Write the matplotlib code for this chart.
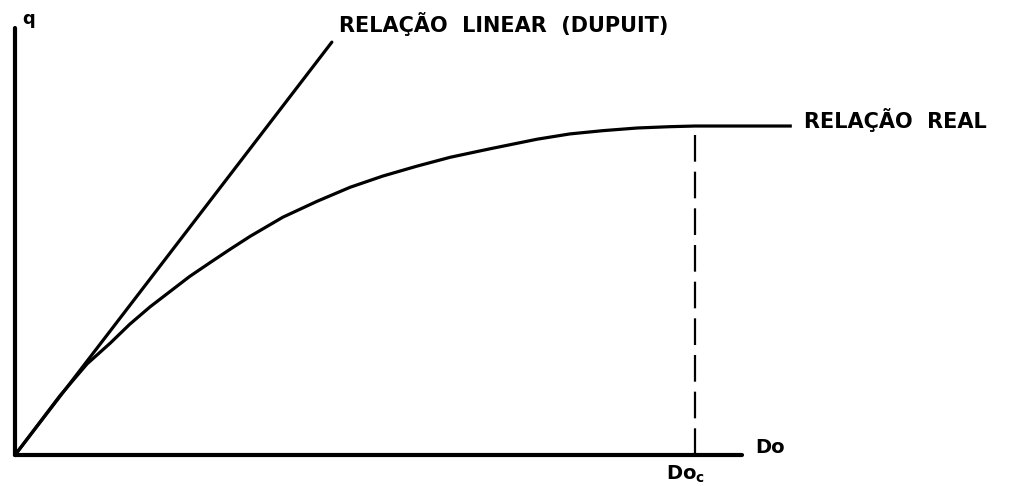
import numpy as np
import matplotlib.pyplot as plt

# curve, x in units of Do_c, y in units of q max
real_x = [0.0, 0.066, 0.106, 0.140, 0.169, 0.199, 0.228, 0.257, 0.287, 0.316,
          0.346, 0.394, 0.444, 0.493, 0.541, 0.591, 0.640, 0.699, 0.768,
          0.816, 0.865, 0.915, 0.963, 1.0, 1.140]
real_q = [0.0, 0.180, 0.277, 0.340, 0.398, 0.451, 0.497, 0.543, 0.585, 0.625,
          0.665, 0.723, 0.771, 0.814, 0.848, 0.878, 0.905, 0.931, 0.960,
          0.976, 0.986, 0.994, 0.998, 1.0, 1.0]

# Dupuit straight line
linear_x = [0.0, 0.466]
linear_q = [0.0, 1.255]

do_c = 1.0
q_top = 1.298
do_end = 1.069

label_linear = 'RELAÇÃO  LINEAR  (DUPUIT)'
label_real = 'RELAÇÃO  REAL'

fig = plt.figure(figsize=(10.16, 4.86), dpi=100)
ax = fig.add_axes([0, 0, 1, 1])
ax.set_xlim(-0.022, 1.472)
ax.set_ylim(-0.094, 1.383)
ax.axis('off')

# axes drawn by hand like the sketch
ax.plot([0, 0], [0, q_top], color='black', lw=3.0, solid_capstyle='round')
ax.plot([0, do_end], [0, 0], color='black', lw=3.0, solid_capstyle='round')

ax.plot(linear_x, linear_q, color='black', lw=2.3, solid_capstyle='round')
ax.plot(real_x, real_q, color='black', lw=2.3, solid_joinstyle='round')
ax.plot([do_c, do_c], [0, 1.0], color='black', lw=1.6, dashes=(12, 4.5))

font = dict(family='DejaVu Sans', weight='bold', color='black')
ax.text(0.011, 1.325, 'q', fontsize=13, ha='left', va='center', **font)
ax.text(0.477, 1.286, label_linear, fontsize=15, ha='left', va='baseline', **font)
ax.text(1.160, 0.994, label_real, fontsize=15, ha='left', va='baseline', **font)
ax.text(1.088, 0.024, 'Do', fontsize=14, ha='left', va='center', **font)
ax.text(0.957, -0.06, r'Do$_\mathbf{c}$', fontsize=14, ha='left', va='center', **font)

fig.savefig('out.png', dpi=100)
